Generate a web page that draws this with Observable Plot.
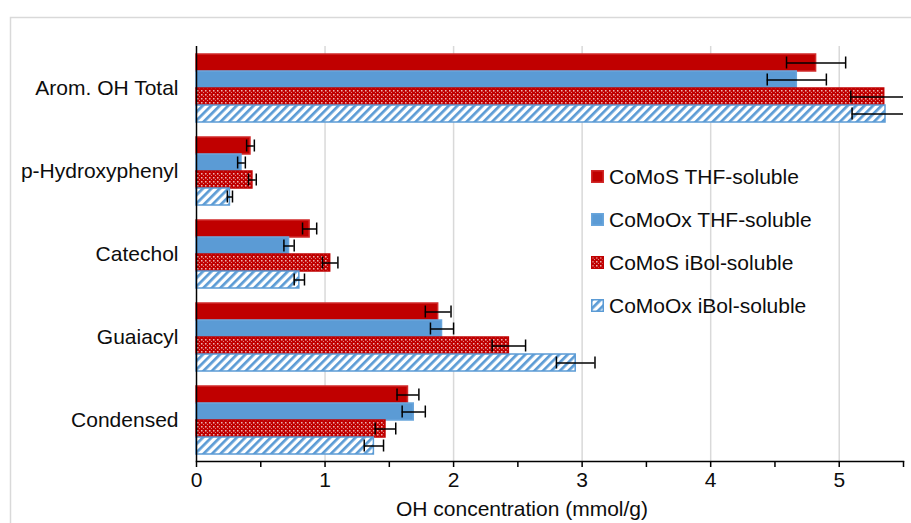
<!DOCTYPE html>
<html><head><meta charset="utf-8">
<script src="https://cdn.jsdelivr.net/npm/d3@7"></script>
<script src="https://cdn.jsdelivr.net/npm/@observablehq/plot@0.6"></script>
<style>
body{margin:0;background:#fff;font-family:"Liberation Sans",Arial,sans-serif;}
#wrap{position:relative;width:911px;height:523px;overflow:hidden;}
#legend{position:absolute;left:591px;top:155px;font-size:21px;color:#0d0d0d;}
.item{display:flex;align-items:center;height:43px;white-space:nowrap;}
.item svg{margin-right:5px;flex:none;}
</style></head><body>
<svg width="0" height="0" style="position:absolute">
<defs>
<pattern id="dots" patternUnits="userSpaceOnUse" width="4" height="4">
<rect width="4" height="4" fill="#C00000"/>
<rect x="1" y="1" width="1.5" height="1.5" fill="#ffffff" fill-opacity="0.7"/>
<rect x="3" y="3" width="1" height="1" fill="#ffffff" fill-opacity="0.5"/>
</pattern>
<pattern id="stripes" patternUnits="userSpaceOnUse" width="6" height="6" patternTransform="rotate(45)">
<rect width="6" height="6" fill="#ffffff"/>
<rect width="2.7" height="6" fill="#5B9BD5"/>
</pattern>
</defs></svg>
<div id="wrap"><div id="legend"></div></div>
<script>
const categories = ["Arom. OH Total", "p-Hydroxyphenyl", "Catechol", "Guaiacyl", "Condensed"];
const series = ["CoMoS THF-soluble", "CoMoOx THF-soluble", "CoMoS iBol-soluble", "CoMoOx iBol-soluble"];
const comosTHF   = [4.82, 0.42, 0.88, 1.88, 1.645];
const comooxTHF  = [4.67, 0.35, 0.72, 1.91, 1.69];
const comosIBol  = [5.35, 0.435, 1.04, 2.43, 1.47];
const comooxIBol = [5.36, 0.26, 0.80, 2.95, 1.38];
const errComosTHF   = [0.23, 0.03, 0.055, 0.10, 0.085];
const errComooxTHF  = [0.23, 0.03, 0.04, 0.09, 0.09];
const errComosIBol  = [0.26, 0.03, 0.06, 0.13, 0.08];
const errComooxIBol = [0.26, 0.02, 0.04, 0.15, 0.075];
const xTicks = [0, 0.5, 1, 1.5, 2, 2.5, 3, 3.5, 4, 4.5, 5, 5.5];
const xTitle = "OH concentration (mmol/g)";

const values = [comosTHF, comooxTHF, comosIBol, comooxIBol];
const errors = [errComosTHF, errComooxTHF, errComosIBol, errComooxIBol];
const fillOf = {
  "CoMoS THF-soluble": "#C00000",
  "CoMoOx THF-soluble": "#5B9BD5",
  "CoMoS iBol-soluble": "url(#dots)",
  "CoMoOx iBol-soluble": "url(#stripes)"
};
const strokeOf = {
  "CoMoS THF-soluble": "#d12a2a",
  "CoMoOx THF-soluble": "#6aa6dc",
  "CoMoS iBol-soluble": "#C00000",
  "CoMoOx iBol-soluble": "#5B9BD5"
};
const rows = [];
categories.forEach((c, i) => series.forEach((s, j) => rows.push({cat: c, series: s, value: values[j][i], err: errors[j][i]})));

const plot = Plot.plot({
  width: 911, height: 523,
  marginLeft: 196, marginRight: 8, marginTop: 45, marginBottom: 62,
  style: {fontSize: "21px", fontFamily: "Liberation Sans, Arial, sans-serif", color: "#0d0d0d", background: "transparent"},
  x: {domain: [0, 5.5]},
  y: {domain: series, axis: null, paddingInner: 0, paddingOuter: 0.38},
  fy: {domain: categories, padding: 0, label: null, tickSize: 0, tickPadding: 18, axis: "left"},
  marks: [
    Plot.ruleX([1, 2, 3, 4, 5], {stroke: "#d9d9d9", strokeWidth: 1.5}),
    Plot.barX(rows, {fy: "cat", y: "series", x: "value", fill: d => fillOf[d.series], stroke: d => strokeOf[d.series], strokeWidth: 1.5}),
    Plot.ruleY(rows, {fy: "cat", y: "series", x1: d => d.value - d.err, x2: d => d.value + d.err, stroke: "black", strokeWidth: 1.5, clip: true}),
    Plot.tickX(rows, {fy: "cat", y: "series", x: d => d.value - d.err, stroke: "black", strokeWidth: 1.5, insetTop: 2.5, insetBottom: 2.5, clip: true}),
    Plot.tickX(rows, {fy: "cat", y: "series", x: d => d.value + d.err, stroke: "black", strokeWidth: 1.5, insetTop: 2.5, insetBottom: 2.5, clip: true}),
    Plot.ruleX([0], {stroke: "black", strokeWidth: 1.5}),
    Plot.frame({anchor: "bottom", facetAnchor: "bottom", stroke: "black", strokeWidth: 1.5}),
    Plot.axisX({ticks: xTicks, tickFormat: d => Number.isInteger(d) ? String(d) : "", tickSize: 6, tickPadding: 5, label: null, stroke: "black", strokeWidth: 1.5})
  ]
});

const svg = d3.select(plot);
svg.insert("rect", ":first-child").attr("x", 10.5).attr("y", 17.5).attr("width", 1000).attr("height", 1000)
  .attr("fill", "none").attr("stroke", "#d9d9d9").attr("stroke-width", 1.5);
svg.append("text").attr("x", 522).attr("y", 516).attr("text-anchor", "middle")
  .attr("fill", "#0d0d0d").attr("font-size", 21).text(xTitle);

const wrap = document.getElementById("wrap");
wrap.insertBefore(plot, wrap.firstChild);
plot.style.position = "absolute"; plot.style.left = "0"; plot.style.top = "0";

const legend = d3.select("#legend");
series.forEach(s => {
  const it = legend.append("div").attr("class", "item");
  const sw = it.append("svg").attr("width", 13).attr("height", 13);
  sw.append("rect").attr("x", 0.75).attr("y", 0.75).attr("width", 11.5).attr("height", 11.5)
    .attr("fill", fillOf[s]).attr("stroke", strokeOf[s]).attr("stroke-width", 1.5);
  it.append("span").text(s);
});
</script>
</body></html>
